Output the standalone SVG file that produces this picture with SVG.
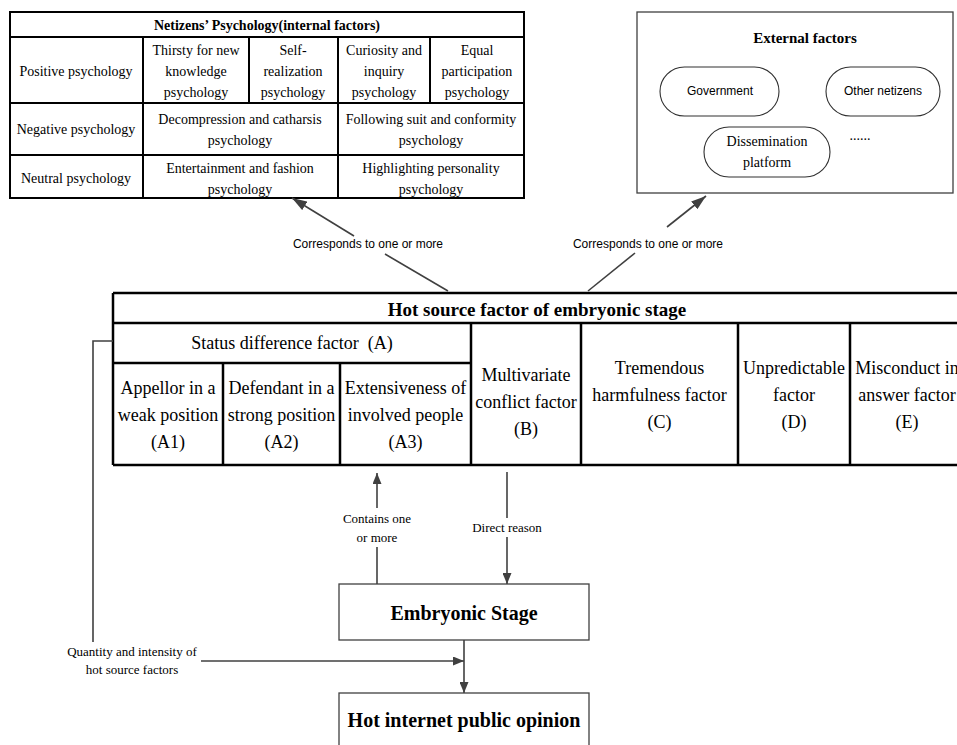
<svg xmlns="http://www.w3.org/2000/svg" width="957" height="745" viewBox="0 0 957 745">
<style>
.t{font-family:"Liberation Serif","Times New Roman",serif;fill:#000;text-anchor:middle}
.s13{font-size:13px}
.s14{font-size:14px}
.s15{font-size:15px}
.s18{font-size:18px}
.s19{font-size:19px}
.s20{font-size:20px}
.b{font-weight:bold}
.sans{font-family:"Liberation Sans",Arial,sans-serif;font-size:12px;text-anchor:middle;fill:#000}
.tl{stroke:#000;stroke-width:2;fill:none}
.ht{stroke:#000;stroke-width:2.5;fill:none}
.conn{stroke:#404040;stroke-width:1.6;fill:none}
.box{stroke:#404040;stroke-width:1.3;fill:#fff}
.pill{stroke:#303030;stroke-width:1.1;fill:#fff}
</style>
<defs>
<marker id="ah" markerWidth="15" markerHeight="10" refX="15" refY="5" orient="auto" markerUnits="userSpaceOnUse"><path d="M0,0 L15,5 L0,10 z" fill="#404040"/></marker>
<marker id="ahs" markerWidth="11" markerHeight="9" refX="11" refY="4.5" orient="auto" markerUnits="userSpaceOnUse"><path d="M0,0 L11,4.5 L0,9 z" fill="#404040"/></marker>
</defs>
<rect width="957" height="745" fill="#fff"/>

<g id="internal-factors">
<rect x="10" y="12" width="514" height="186" class="tl" fill="#fff"/>
<path class="tl" d="M10,37H524 M10,103H524 M10,155H524 M143,37V198 M249,37V103 M338,37V198 M430,37V103"/>
<text class="t s14 b" x="267" y="30">Netizens’ Psychology(internal factors)</text>
<text class="t s14" x="76" y="76">Positive psychology</text>
<text class="t s14" x="196" y="55">Thirsty for new</text>
<text class="t s14" x="196" y="76">knowledge</text>
<text class="t s14" x="196" y="97">psychology</text>
<text class="t s14" x="293" y="55">Self-</text>
<text class="t s14" x="293" y="76">realization</text>
<text class="t s14" x="293" y="97">psychology</text>
<text class="t s14" x="384" y="55">Curiosity and</text>
<text class="t s14" x="384" y="76">inquiry</text>
<text class="t s14" x="384" y="97">psychology</text>
<text class="t s14" x="477" y="55">Equal</text>
<text class="t s14" x="477" y="76">participation</text>
<text class="t s14" x="477" y="97">psychology</text>
<text class="t s14" x="76" y="134">Negative psychology</text>
<text class="t s14" x="240" y="124">Decompression and catharsis</text>
<text class="t s14" x="240" y="145">psychology</text>
<text class="t s14" x="431" y="124">Following suit and conformity</text>
<text class="t s14" x="431" y="145">psychology</text>
<text class="t s14" x="76" y="183">Neutral psychology</text>
<text class="t s14" x="240" y="173">Entertainment and fashion</text>
<text class="t s14" x="240" y="194">psychology</text>
<text class="t s14" x="431" y="173">Highlighting personality</text>
<text class="t s14" x="431" y="194">psychology</text>
</g>

<g id="external-factors">
<rect x="637" y="12" width="316" height="181" class="box"/>
<text class="t s15 b" x="805" y="43">External factors</text>
<g id="government">
<rect x="660" y="67" width="119" height="49" rx="24.5" class="pill"/>
<text class="sans" x="720" y="95">Government</text>
</g>
<g id="other-netizens">
<rect x="826" y="67" width="114" height="49" rx="24.5" class="pill"/>
<text class="sans" x="883" y="95">Other netizens</text>
</g>
<g id="dissemination-platform">
<rect x="704" y="127" width="126" height="50" rx="25" class="pill"/>
<text class="t s14" x="767" y="146">Dissemination</text>
<text class="t s14" x="767" y="167">platform</text>
</g>
<text class="t s14" x="860" y="140">......</text>
</g>

<g id="hot-source-factors">
<path class="ht" d="M113,293H957 M113,323H957 M113,363H471 M113,465H957 M113,293V465 M223,363V465 M340,363V465 M471,323V465 M581,323V465 M738,323V465 M850,323V465"/>
<text class="t s19 b" x="537" y="316">Hot source factor of embryonic stage</text>
<text class="t s18" x="292" y="349">Status difference factor&#160;&#160;(A)</text>
<text class="t s18" x="168" y="394">Appellor in a</text>
<text class="t s18" x="168" y="421">weak position</text>
<text class="t s18" x="168" y="448">(A1)</text>
<text class="t s18" x="281.5" y="394">Defendant in a</text>
<text class="t s18" x="281.5" y="421">strong position</text>
<text class="t s18" x="281.5" y="448">(A2)</text>
<text class="t s18" x="405.5" y="394">Extensiveness of</text>
<text class="t s18" x="405.5" y="421">involved people</text>
<text class="t s18" x="405.5" y="448">(A3)</text>
<text class="t s18" x="526" y="381">Multivariate</text>
<text class="t s18" x="526" y="408">conflict factor</text>
<text class="t s18" x="526" y="435">(B)</text>
<text class="t s18" x="659.5" y="374">Tremendous</text>
<text class="t s18" x="659.5" y="401">harmfulness factor</text>
<text class="t s18" x="659.5" y="428">(C)</text>
<text class="t s18" x="794" y="374">Unpredictable</text>
<text class="t s18" x="794" y="401">factor</text>
<text class="t s18" x="794" y="428">(D)</text>
<text class="t s18" x="907" y="374">Misconduct in</text>
<text class="t s18" x="907" y="401">answer factor</text>
<text class="t s18" x="907" y="428">(E)</text>
</g>

<g id="embryonic-stage">
<rect x="339" y="584" width="250" height="56" class="box"/>
<text class="t s20 b" x="464" y="620">Embryonic Stage</text>
</g>

<g id="hot-internet-public-opinion">
<rect x="339" y="693" width="250" height="60" class="box"/>
<text class="t s20 b" x="464" y="727">Hot internet public opinion</text>
</g>

<g id="connectors">
<path class="conn" d="M448,291L385,254"/>
<path class="conn" d="M354,236L292,198" marker-end="url(#ah)"/>
<text class="sans" x="368" y="248">Corresponds to one or more</text>
<path class="conn" d="M588,291L635,253"/>
<path class="conn" d="M667,227L706,196" marker-end="url(#ah)"/>
<text class="sans" x="648" y="248">Corresponds to one or more</text>
<path class="conn" d="M377,584V547"/>
<path class="conn" d="M377,508V473" marker-end="url(#ahs)"/>
<text class="t s13" x="377" y="523">Contains one</text>
<text class="t s13" x="377" y="542">or more</text>
<path class="conn" d="M507,472V518"/>
<path class="conn" d="M507,537V584" marker-end="url(#ahs)"/>
<text class="t s13" x="507" y="532">Direct reason</text>
<path class="conn" stroke-width="1.3" d="M113,341H93V642"/>
<text class="t s13" x="132" y="656">Quantity and intensity of</text>
<text class="t s13" x="132" y="674">hot source factors</text>
<path class="conn" d="M201,661H464" marker-end="url(#ahs)"/>
<path class="conn" d="M464,640V693" marker-end="url(#ahs)"/>
</g>
</svg>
